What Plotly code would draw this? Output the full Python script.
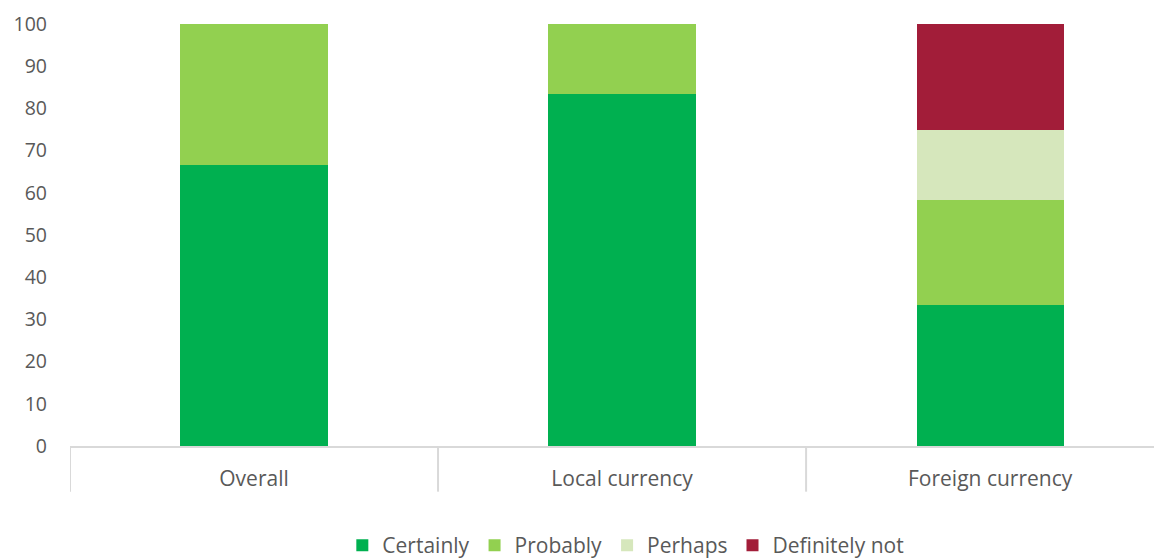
import plotly.graph_objects as go

categories = ["Overall", "Local currency", "Foreign currency"]
certainly = [66.7, 83.3, 33.3]
probably = [33.3, 16.7, 25.0]
perhaps = [0, 0, 16.7]
definitely_not = [0, 0, 25.0]

series = [
    ("Certainly", certainly, "#00B050"),
    ("Probably", probably, "#92D050"),
    ("Perhaps", perhaps, "#D6E7BC"),
    ("Definitely not", definitely_not, "#A21D39"),
]

fig = go.Figure()
for name, vals, col in series:
    fig.add_trace(go.Bar(x=categories, y=vals, name=name, marker=dict(color=col, line=dict(width=0)),
                         width=0.4))

font_family = "Open Sans"
fig.update_layout(
    barmode="stack",
    width=1154, height=558,
    margin=dict(l=62, r=0, t=16, b=109),
    plot_bgcolor="white", paper_bgcolor="white",
    font=dict(family=font_family, size=20, color="#595959"),
    showlegend=True,
    legend=dict(orientation="h", x=0.509, xanchor="center", y=-0.236, yanchor="middle",
                font=dict(size=21, color="#595959"), traceorder="normal"),
    xaxis=dict(range=[-0.5, 2.467], showgrid=False, showline=True, linecolor="#D9D9D9", linewidth=2,
               ticks="", tickfont=dict(size=21, color="#595959"), ticklabelstandoff=13, automargin=False),
    yaxis=dict(range=[0, 100], dtick=10, showgrid=False, showline=False, zeroline=False,
               ticks="", tickfont=dict(size=19.5, color="#595959"), ticklabelstandoff=22, automargin=False),
)

for b in [-0.5, 0.5, 1.5]:
    fig.add_shape(type="line", xref="x", yref="paper", x0=b, x1=b, y0=0, y1=-46/425,
                  line=dict(color="#D9D9D9", width=2))

fig.write_html("out.html")
